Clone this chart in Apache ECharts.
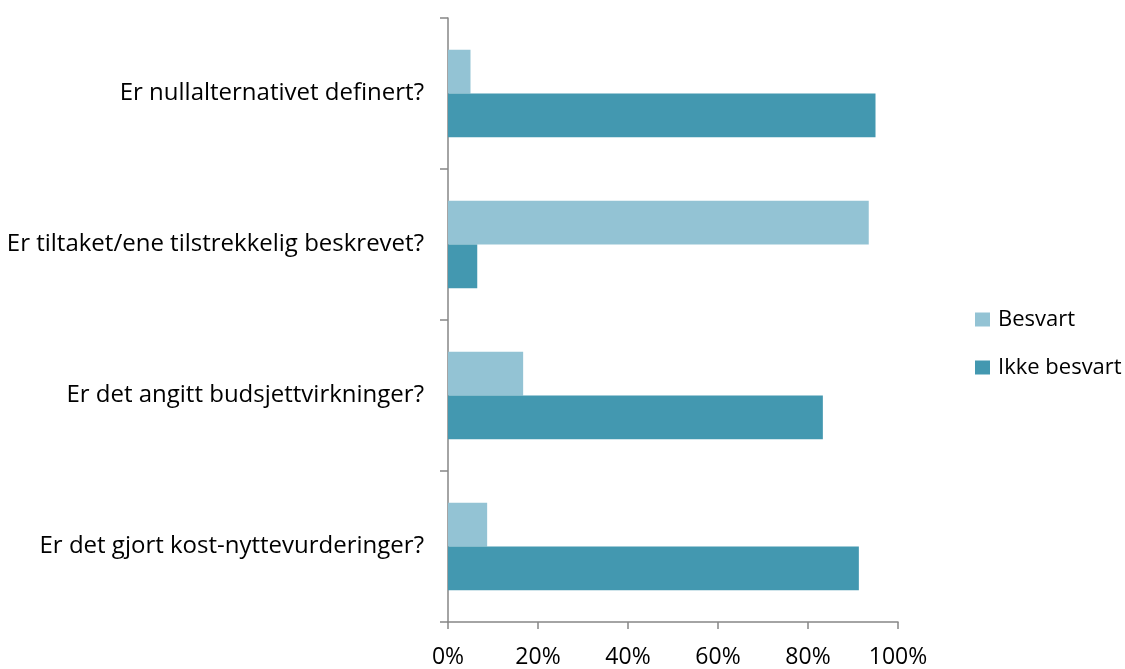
<!DOCTYPE html>
<html>
<head>
<meta charset="utf-8">
<script src="https://cdn.jsdelivr.net/npm/echarts@6/dist/echarts.min.js"></script>
<style>
html,body{margin:0;padding:0;background:#fff;}
#chart{width:1125px;height:669px;}
</style>
</head>
<body>
<div id="chart"></div>
<script>
const categories = [
  "Er nullalternativet definert?",
  "Er tiltaket/ene tilstrekkelig beskrevet?",
  "Er det angitt budsjettvirkninger?",
  "Er det gjort kost-nyttevurderinger?"
];
const seriesNames = ["Besvart", "Ikke besvart"];
const besvart = [5.0, 93.5, 16.7, 8.7];
const ikkeBesvart = [95.0, 6.5, 83.3, 91.3];
const xTicks = [0, 20, 40, 60, 80, 100];

const font = "'Open Sans', sans-serif";
const chart = echarts.init(document.getElementById('chart'), null, {renderer: 'canvas'});
chart.setOption({
  animation: false,
  backgroundColor: '#ffffff',
  grid: {left: 448, right: 227, top: 18, bottom: 45, containLabel: false},
  legend: {
    orient: 'vertical',
    left: 970,
    top: 303,
    itemWidth: 15,
    itemHeight: 14,
    itemGap: 25,
    icon: 'rect',
    textStyle: {fontFamily: font, fontSize: 22, lineHeight: 23, color: '#000', padding: [0, 0, 0, 3]},
    data: seriesNames
  },
  xAxis: {
    type: 'value',
    min: xTicks[0],
    max: xTicks[xTicks.length - 1],
    interval: 20,
    axisLine: {show: true, lineStyle: {color: '#868686', width: 1.5}},
    axisTick: {show: true, length: 7, lineStyle: {color: '#868686', width: 1.5}},
    splitLine: {show: false},
    axisLabel: {
      fontFamily: font, fontSize: 23, color: '#000', margin: 24,
      formatter: v => v + '%'
    }
  },
  yAxis: {
    type: 'category',
    inverse: true,
    data: categories,
    axisLine: {show: true, lineStyle: {color: '#868686', width: 1.5}},
    axisTick: {show: true, length: 8, lineStyle: {color: '#868686', width: 1.5}},
    axisLabel: {fontFamily: font, fontSize: 24, color: '#000', margin: 24}
  },
  series: [
    {
      name: seriesNames[0], type: 'bar', data: besvart,
      barGap: '0%', barCategoryGap: '42%',
      itemStyle: {color: '#93C3D4'}
    },
    {
      name: seriesNames[1], type: 'bar', data: ikkeBesvart,
      barGap: '0%', barCategoryGap: '42%',
      itemStyle: {color: '#4398B0'}
    }
  ]
});
</script>
</body>
</html>
